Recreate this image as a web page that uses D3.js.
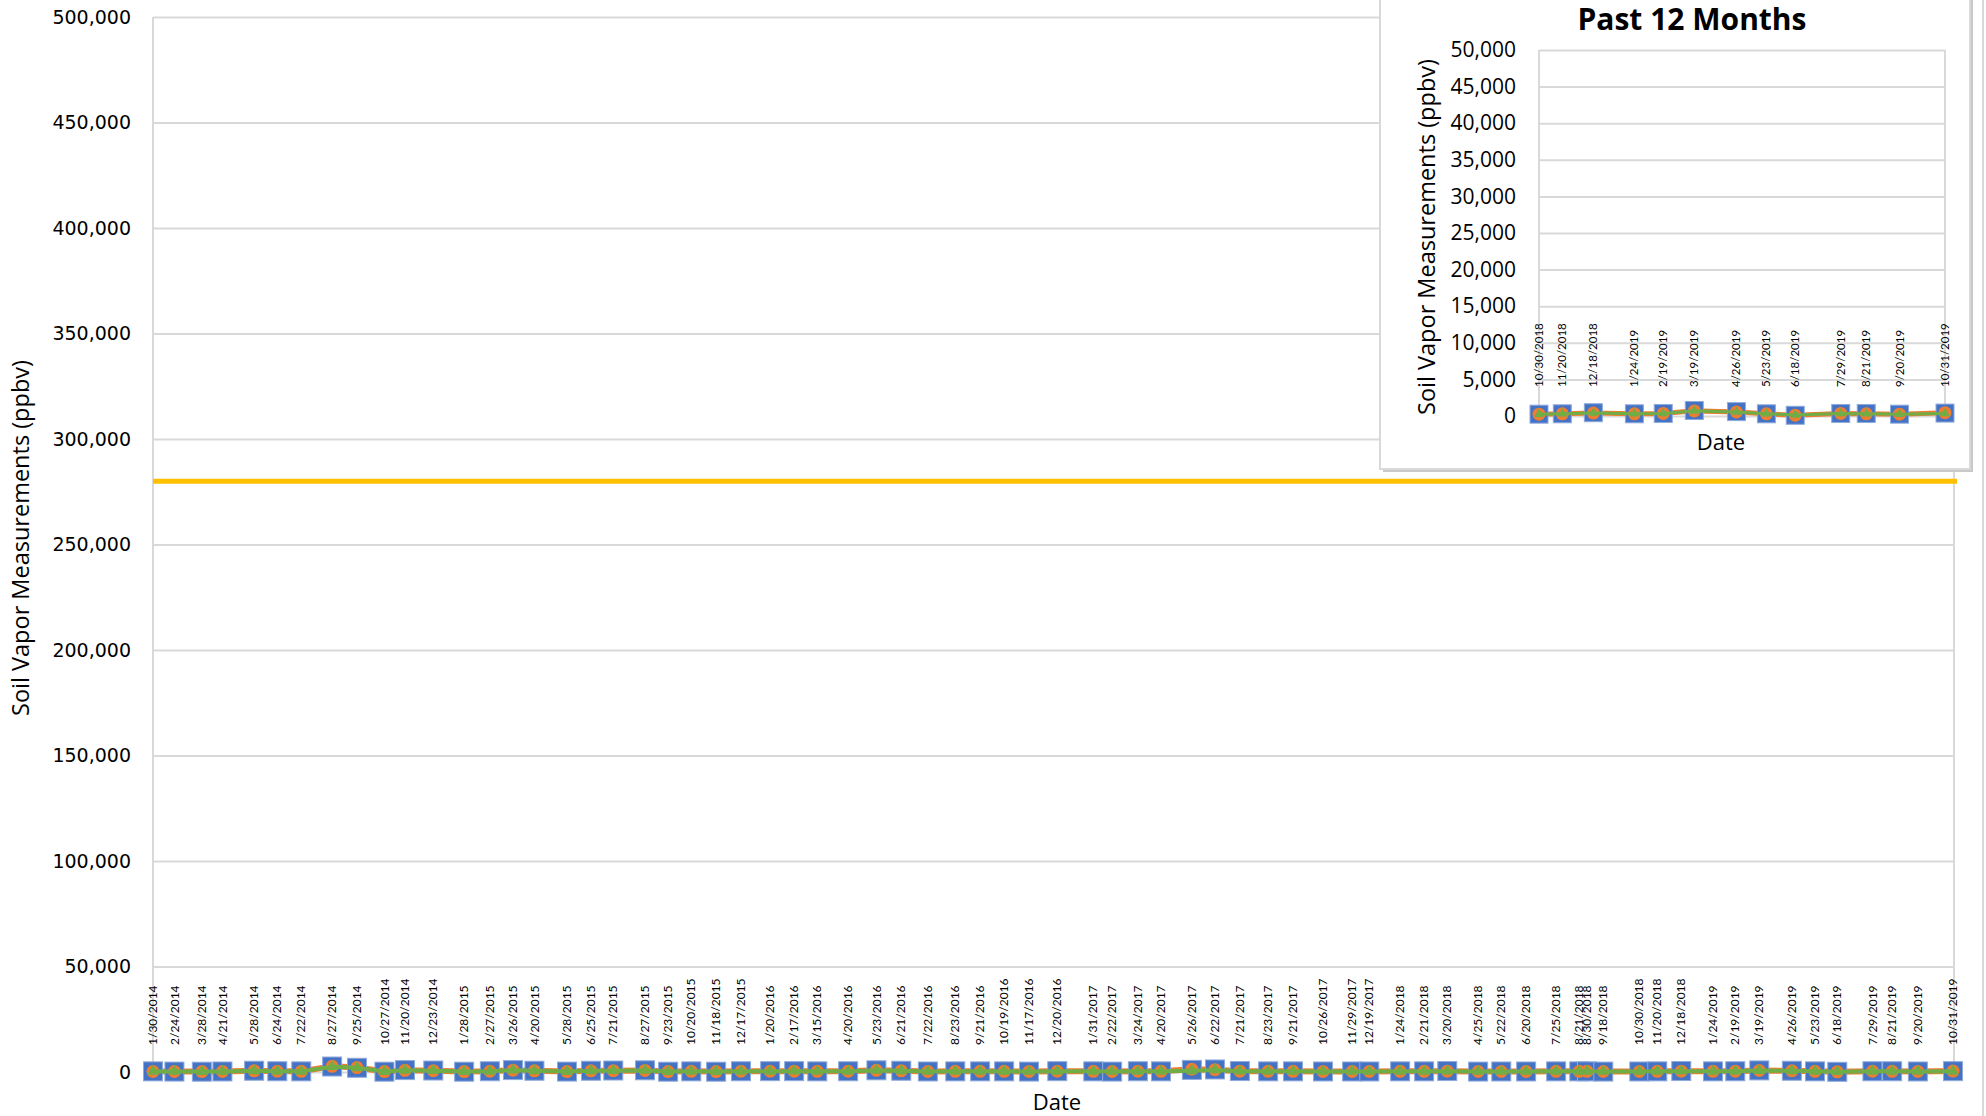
<!DOCTYPE html>
<html>
<head>
<meta charset="utf-8">
<script src="https://cdn.jsdelivr.net/npm/d3@7"></script>
<style>
  body { margin: 0; background: #fff; }
  svg { display: block; }
</style>
</head>
<body>
<div id="wrapper"></div>
<script>
// sampling dates (m/d/yyyy)
const dates = [
  '1/30/2014','2/24/2014','3/28/2014','4/21/2014','5/28/2014','6/24/2014','7/22/2014','8/27/2014','9/25/2014','10/27/2014','11/20/2014','12/23/2014',
  '1/28/2015','2/27/2015','3/26/2015','4/20/2015','5/28/2015','6/25/2015','7/21/2015','8/27/2015','9/23/2015','10/20/2015','11/18/2015','12/17/2015',
  '1/20/2016','2/17/2016','3/15/2016','4/20/2016','5/23/2016','6/21/2016','7/22/2016','8/23/2016','9/21/2016','10/19/2016','11/17/2016','12/20/2016',
  '1/31/2017','2/22/2017','3/24/2017','4/20/2017','5/26/2017','6/22/2017','7/21/2017','8/23/2017','9/21/2017','10/26/2017','11/29/2017','12/19/2017',
  '1/24/2018','2/21/2018','3/20/2018','4/25/2018','5/22/2018','6/20/2018','7/25/2018','8/21/2018','8/30/2018','9/18/2018','10/30/2018','11/20/2018','12/18/2018',
  '1/24/2019','2/19/2019','3/19/2019','4/26/2019','5/23/2019','6/18/2019','7/29/2019','8/21/2019','9/20/2019','10/31/2019'
];

// three series (ppbv)
const seriesA = [ // blue squares
  300,200,150,250,600,350,300,2600,2000,150,900,700,
  150,350,900,600,200,600,700,800,150,300,150,350,
  400,400,300,350,800,600,250,300,300,300,200,400,
  300,200,350,300,1000,1200,450,300,300,250,250,250,
  300,300,450,200,250,250,300,300,300,200,250,300,450,
  300,350,750,600,300,100,350,350,250,400
];
const seriesB = [ // orange circles
  250,250,200,250,550,350,300,2700,2100,200,800,650,
  200,350,850,550,200,550,650,750,200,300,200,350,
  350,400,300,350,800,550,250,300,300,300,250,350,
  300,250,350,300,1300,1100,400,300,300,250,250,250,
  300,300,400,250,250,250,300,300,300,250,250,300,400,
  300,350,700,550,300,100,350,300,250,450
];
const seriesC = [ // green line
  250,250,200,250,550,350,300,2500,2000,200,800,650,
  200,350,850,550,200,550,650,750,200,300,200,350,
  350,400,300,350,750,550,250,300,300,300,250,350,
  300,250,350,300,600,1000,400,300,300,250,250,250,
  300,300,400,250,250,250,300,300,300,250,250,300,400,
  300,350,700,550,300,150,350,300,250,350
];

const screeningLevel = 280000;
const mainTicks = d3.range(0, 500001, 50000);
const insetTicks = d3.range(0, 50001, 5000);
const insetStart = '10/30/2018';

const parse = d3.timeParse('%m/%d/%Y');
const fmtLabel = d => `${d.getMonth() + 1}/${d.getDate()}/${d.getFullYear()}`;
const data = dates.map((d, i) => ({ date: parse(d), a: seriesA[i], b: seriesB[i], c: seriesC[i] }));
const insetData = data.filter(d => d.date >= parse(insetStart));

const W = 1986, H = 1116;
const svg = d3.select('#wrapper').append('svg').attr('width', W).attr('height', H);

const col = { blue: '#4472C4', blueEdge: '#8FAADC', orange: '#ED7D31', green: '#70AD47', grid: '#D9D9D9', gold: '#FFC000' };
const titleFont = '"Open Sans", sans-serif';

// chart border (right side)
svg.append('line').attr('x1', 1983).attr('x2', 1983).attr('y1', 0).attr('y2', H)
  .attr('stroke', '#D9D9D9').attr('stroke-width', 2);

function drawPanel(g, opt) {
  const x = d3.scaleTime().domain(d3.extent(opt.data, d => d.date)).range([opt.left, opt.right]);
  const y = d3.scaleLinear().domain([0, opt.max]).range([opt.bottom, opt.top]);

  // gridlines + tick labels
  const yAxis = d3.axisLeft(y).tickValues(opt.ticks).tickSize(-(opt.gridRight - opt.left))
    .tickFormat(d3.format(',')).tickPadding(opt.tickPad);
  const ya = g.append('g').attr('transform', `translate(${opt.left},0)`).call(yAxis);
  ya.select('.domain').remove();
  ya.selectAll('.tick line').attr('stroke', col.grid).attr('stroke-width', 2);
  ya.selectAll('.tick text').attr('font-family', opt.tickFont).attr('font-size', opt.tickSize).attr('fill', '#000');

  // left/right plot borders
  g.append('line').attr('x1', opt.left).attr('x2', opt.left).attr('y1', opt.top).attr('y2', opt.bottom)
    .attr('stroke', col.grid).attr('stroke-width', 2);
  g.append('line').attr('x1', opt.gridRight).attr('x2', opt.gridRight).attr('y1', opt.top).attr('y2', opt.bottom)
    .attr('stroke', col.grid).attr('stroke-width', 2);

  // date labels, rotated, sitting just above the zero line
  g.append('g').selectAll('text').data(opt.data).join('text')
    .attr('transform', d => `translate(${x(d.date)},${opt.bottom - opt.labelGap}) rotate(-90)`)
    .attr('dy', '0.35em')
    .attr('font-family', 'Lato, sans-serif').attr('font-size', opt.labelSize)
    .attr('fill', '#000')
    .text(d => fmtLabel(d.date));

  if (opt.level !== undefined) {
    g.append('line').attr('x1', opt.left).attr('x2', opt.levelRight)
      .attr('y1', y(opt.level)).attr('y2', y(opt.level))
      .attr('stroke', col.gold).attr('stroke-width', 5);
  }

  const line = key => d3.line().x(d => x(d.date)).y(d => y(d[key]));
  g.append('path').attr('d', line('a')(opt.data)).attr('fill', 'none').attr('stroke', col.blue).attr('stroke-width', 3);
  g.append('path').attr('d', line('b')(opt.data)).attr('fill', 'none').attr('stroke', col.orange).attr('stroke-width', opt.lineW + 2);

  const s = opt.sq;
  g.append('g').selectAll('rect').data(opt.data).join('rect')
    .attr('x', d => x(d.date) - s / 2).attr('y', d => y(d.a) - s / 2)
    .attr('width', s).attr('height', s)
    .attr('fill', col.blue).attr('stroke', col.blueEdge).attr('stroke-width', 1);
  g.append('g').selectAll('circle').data(opt.data).join('circle')
    .attr('cx', d => x(d.date)).attr('cy', d => y(d.b)).attr('r', opt.r)
    .attr('fill', col.orange);

  g.append('path').attr('d', line('c')(opt.data)).attr('fill', 'none').attr('stroke', col.green).attr('stroke-width', opt.lineW);
  const tri = d3.symbol().type(d3.symbolTriangle).size(opt.tri);
  g.append('g').selectAll('path').data(opt.data).join('path')
    .attr('transform', d => `translate(${x(d.date)},${y(d.c)})`)
    .attr('d', tri).attr('fill', col.green);
}

// main chart
const main = svg.append('g');
drawPanel(main, {
  data, left: 153, right: 1953, gridRight: 1954, levelRight: 1957, top: 17, bottom: 1072,
  max: 500000, ticks: mainTicks, tickPad: 22, tickFont: 'DejaVu Sans, sans-serif', tickSize: 19,
  labelGap: 27, labelSize: 12, level: screeningLevel, sq: 19, r: 6.5, lineW: 4, tri: 60
});
main.append('text').attr('x', 1057).attr('y', 1110).attr('text-anchor', 'middle')
  .attr('font-family', titleFont).attr('font-size', 22).text('Date');
main.append('text').attr('transform', 'translate(29,538) rotate(-90)').attr('text-anchor', 'middle')
  .attr('font-family', titleFont).attr('font-size', 23.5).text('Soil Vapor Measurements (ppbv)');

// inset: past 12 months
const inset = svg.append('g');
inset.append('rect').attr('x', 1383).attr('y', -10).attr('width', 590).attr('height', 482)
  .attr('fill', '#C8C8C8');
inset.append('rect').attr('x', 1380).attr('y', -10).attr('width', 590).attr('height', 479)
  .attr('fill', '#fff').attr('stroke', '#D9D9D9').attr('stroke-width', 2);
drawPanel(inset, {
  data: insetData, left: 1539, right: 1945, gridRight: 1945, top: 50, bottom: 416,
  max: 50000, ticks: insetTicks, tickPad: 23, tickFont: titleFont, tickSize: 21,
  labelGap: 29, labelSize: 11.5, sq: 18, r: 6.5, lineW: 3, tri: 40
});
inset.append('text').attr('x', 1692).attr('y', 30).attr('text-anchor', 'middle')
  .attr('font-family', titleFont).attr('font-weight', 'bold').attr('font-size', 30).text('Past 12 Months');
inset.append('text').attr('x', 1721).attr('y', 450).attr('text-anchor', 'middle')
  .attr('font-family', titleFont).attr('font-size', 22).text('Date');
inset.append('text').attr('transform', 'translate(1435,237) rotate(-90)').attr('text-anchor', 'middle')
  .attr('font-family', titleFont).attr('font-size', 23.5).text('Soil Vapor Measurements (ppbv)');
</script>
</body>
</html>
